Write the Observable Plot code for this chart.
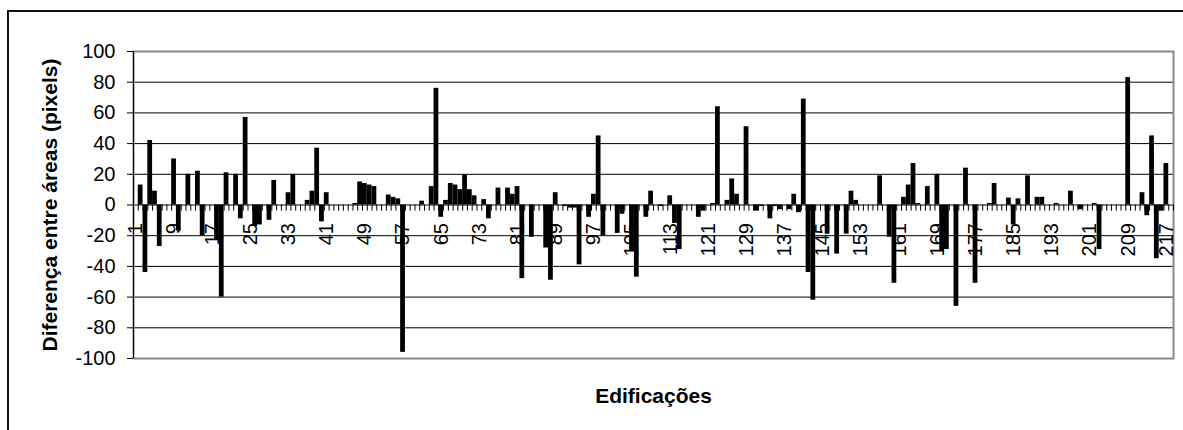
<!DOCTYPE html>
<html><head><meta charset="utf-8">
<script src="https://cdn.jsdelivr.net/npm/d3@7"></script>
<script src="https://cdn.jsdelivr.net/npm/@observablehq/plot@0.6"></script>
<style>
html,body{margin:0;padding:0;background:#fff;overflow:hidden;width:1183px;height:430px;}
#wrap{position:relative;width:1183px;height:430px;overflow:hidden;}
#border{position:absolute;left:7px;top:10px;width:1300px;height:600px;border:2px solid #111;box-sizing:border-box;}
#chart{position:absolute;left:0;top:0;}
</style></head><body>
<div id="wrap"><div id="border"></div><div id="chart"></div></div>
<script>
// Diferença entre áreas (pixels) por edificação 1..218
const values = [
  0, 13, -44, 42, 9, -27, 0, 0, 30, -17,
  0, 20, 0, 22, -20, 0, 0, -23, -60, 21,
  0, 20, -9, 57, 0, -14, -13, 0, -10, 16,
  0, 0, 8, 20, 0, 0, 3, 9, 37, -11,
  8, 0, 0, 0, 0, 0, 1, 15, 14, 13,
  12, 0, 0, 6.5, 5, 4, -96, 0, 0, 0,
  2.5, 0, 12, 76, -8, 3, 14, 13, 10, 19.5,
  10, 6, 0, 3.5, -9, 0, 11, 0, 11, 7,
  12, -48, 0, -21, 0, 0, -28, -49, 8, 0,
  -1, -2, -2, -39, 0, -8, 7, 45, -20, 0,
  0, -18.5, -6, 0, -30, -47, 0, -8, 9, 0,
  -1, 0, 6, -12, -29, 0, 0, 0, -8, -4,
  0, 1, 64, 0, 3, 17, 7, 0, 51, 0,
  -4, -1, 0, -9, -1, -3, 0, -3, 7, -5,
  69, -44, -62, 0, 0, -19, 0, -32, 0, -19,
  9, 3, 0, 0, 0, 0, 19, 0, -21, -51,
  0, 5, 13, 27, 1, 0, 12, 0, 20, -30,
  -29, 0, -66, 0, 24, 0, -51, 0, 0, 1,
  14, 0, 0, 4.5, -13, 4, 0, 19, 0, 5,
  5, 0, 0, 1, 0, 0, 9, 0, -3, 0,
  0, 1, -29, 0, 0, 0, 0, 0, 83, 0,
  0, 8, -7, 45, -35, -4, 27, 0
];
const categories = values.map((_, i) => i + 1);
const xTickLabels = [1, 9, 17, 25, 33, 41, 49, 57, 65, 73, 81, 89, 97, 105, 113, 121, 129, 137, 145, 153, 161, 169, 177, 185, 193, 201, 209, 217];
const yTicks = [-100, -80, -60, -40, -20, 0, 20, 40, 60, 80, 100];
const yTitle = "Diferença entre áreas (pixels)";
const xTitle = "Edificações";

const data = categories.map((c, i) => ({c, v: values[i]}));
const xMin = categories[0];
const xMax = categories[categories.length - 1] + 1;
const boundaries = [...categories, xMax];

const chart = Plot.plot({
  width: 1183, height: 430,
  marginLeft: 133, marginRight: 10, marginTop: 51, marginBottom: 72,
  style: {fontFamily: "'Liberation Sans', Arial, sans-serif", fontSize: "20px", background: "none", color: "#000", overflow: "visible"},
  x: {type: "linear", domain: [xMin, xMax], axis: null},
  y: {domain: [-100, 100], axis: null},
  marks: [
    Plot.ruleY(yTicks.filter(t => Math.abs(t) < 100), {stroke: "#000", strokeWidth: 1}),
    Plot.frame({stroke: "#888", strokeWidth: 2}),
    Plot.rect(data, {x1: "c", x2: d => d.c + 1, y1: 0, y2: "v", fill: "#000"}),
    Plot.ruleX(boundaries, {x: d => d, y1: 0, y2: -4, stroke: "#000"}),
    Plot.ruleX([xMin], {stroke: "#000"}),
    Plot.axisY({ticks: yTicks, tickSize: 6, tickPadding: 12, fontSize: 20, anchor: "left", label: null, tickFormat: d => String(d)}),
    Plot.text(xTickLabels, {x: d => d + 0.5, y: 0, text: d => String(d), rotate: -90, textAnchor: "end", lineAnchor: "middle", dy: 18, fontSize: 20}),
    Plot.text([yTitle], {frameAnchor: "left", dx: -83, rotate: -90, text: d => d, textAnchor: "middle", lineAnchor: "middle", fontSize: 21, fontWeight: "bold"}),
    Plot.text([xTitle], {frameAnchor: "bottom", dy: 37.5, text: d => d, textAnchor: "middle", lineAnchor: "middle", fontSize: 21, fontWeight: "bold"})
  ]
});
document.getElementById("chart").appendChild(chart);
</script>
</body></html>
